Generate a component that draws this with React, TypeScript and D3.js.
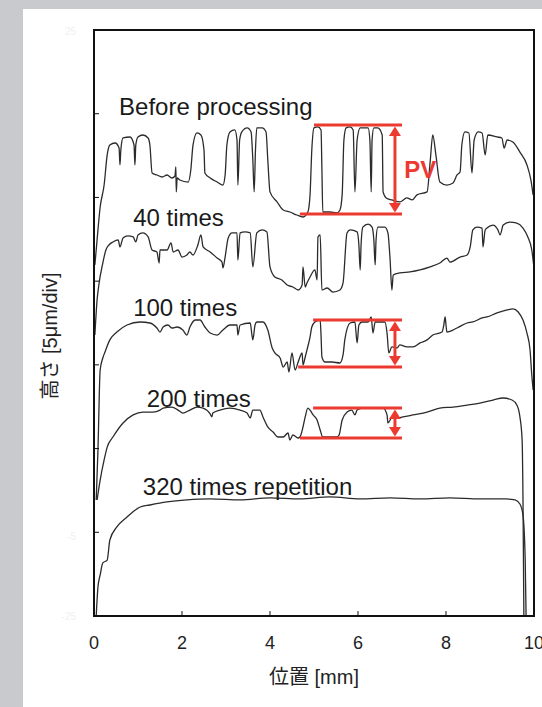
import React from 'react';
import * as d3 from 'd3';

// profile data: [position mm, height µm] (curves offset by 5 µm/div)
const beforeProcessing: [number, number][] = [
  [0.02, 20.97], [0.07, 22.46], [0.14, 24.43], [0.23, 25.74], [0.3, 27.54], [0.36, 28.13], [0.48, 28.25],
  [0.57, 27.95], [0.59, 26.94], [0.61, 27.83], [0.66, 28.55], [0.82, 28.61], [0.91, 28.13], [0.93, 26.94],
  [0.95, 28.13], [1.0, 28.61], [1.11, 28.73], [1.23, 28.55], [1.27, 28.13], [1.32, 26.46], [1.43, 26.34],
  [1.55, 26.22], [1.66, 26.34], [1.77, 26.16], [1.84, 26.28], [1.86, 26.82], [1.87, 25.33], [1.89, 26.16],
  [1.95, 26.04], [2.14, 25.92], [2.2, 26.64], [2.25, 28.13], [2.34, 28.85], [2.43, 28.73], [2.5, 27.83],
  [2.52, 26.46], [2.64, 26.16], [2.8, 25.92], [2.93, 25.74], [2.98, 26.34], [3.02, 28.13], [3.09, 28.91],
  [3.2, 29.03], [3.25, 28.43], [3.27, 25.74], [3.31, 28.43], [3.36, 28.91], [3.48, 29.15], [3.57, 28.91],
  [3.61, 27.24], [3.64, 25.33], [3.67, 27.83], [3.7, 29.15], [3.82, 29.15], [3.91, 28.91], [3.95, 27.24],
  [4.0, 25.33], [4.16, 24.73], [4.3, 24.25], [4.45, 24.13], [4.61, 23.95], [4.75, 23.83], [4.86, 24.13],
  [4.91, 25.15], [4.95, 27.83], [5.0, 29.15], [5.09, 29.21], [5.16, 29.03], [5.18, 26.64], [5.2, 24.13],
  [5.36, 24.13], [5.52, 24.07], [5.59, 24.25], [5.64, 25.15], [5.68, 28.43], [5.73, 29.15], [5.82, 29.21],
  [5.89, 29.03], [5.93, 25.33], [5.98, 28.43], [6.05, 29.15], [6.11, 29.15], [6.23, 29.15], [6.27, 28.43],
  [6.3, 25.33], [6.32, 28.43], [6.36, 29.15], [6.45, 29.15], [6.55, 28.73], [6.57, 25.33], [6.64, 24.97],
  [6.77, 24.85], [6.95, 24.73], [7.11, 24.97], [7.23, 24.85], [7.34, 25.15], [7.57, 25.33], [7.64, 27.12],
  [7.7, 28.73], [7.77, 27.54], [7.86, 25.92], [8.02, 25.74], [8.16, 25.86], [8.25, 26.34], [8.32, 26.52],
  [8.36, 28.13], [8.43, 28.91], [8.52, 28.85], [8.59, 26.46], [8.64, 28.43], [8.73, 28.91], [8.82, 28.85],
  [8.89, 27.54], [8.95, 28.73], [9.16, 28.61], [9.27, 28.55], [9.32, 27.95], [9.39, 28.43], [9.52, 28.31],
  [9.68, 27.71], [9.84, 26.94], [9.93, 26.04], [9.98, 25.15],
];

const times40: [number, number][] = [
  [0.02, 16.78], [0.07, 18.87], [0.11, 19.77], [0.2, 21.08], [0.27, 21.86], [0.34, 22.16], [0.43, 22.34],
  [0.55, 22.46], [0.59, 22.04], [0.66, 22.58], [0.77, 22.7], [0.89, 22.64], [0.95, 22.34], [1.0, 22.76],
  [1.11, 22.88], [1.23, 22.64], [1.32, 21.86], [1.43, 21.74], [1.48, 21.08], [1.5, 21.86], [1.66, 21.86],
  [1.75, 22.28], [1.8, 21.74], [1.91, 21.86], [2.0, 21.44], [2.11, 21.56], [2.18, 21.74], [2.25, 21.56],
  [2.36, 22.16], [2.43, 22.76], [2.48, 22.04], [2.64, 21.74], [2.8, 21.38], [2.91, 21.14], [2.93, 20.79],
  [2.98, 21.44], [3.05, 22.58], [3.14, 22.88], [3.25, 22.88], [3.27, 21.26], [3.32, 22.88], [3.43, 22.94],
  [3.55, 22.88], [3.61, 20.85], [3.7, 22.88], [3.82, 23.06], [3.93, 22.94], [4.0, 20.85], [4.11, 20.25],
  [4.27, 20.07], [4.39, 19.77], [4.52, 19.65], [4.64, 19.47], [4.73, 19.77], [4.75, 20.85], [4.8, 19.65],
  [4.84, 19.89], [4.91, 20.25], [5.02, 20.67], [5.07, 20.07], [5.09, 22.64], [5.14, 22.76], [5.18, 19.47],
  [5.3, 19.59], [5.43, 19.35], [5.59, 19.47], [5.66, 19.89], [5.75, 22.88], [5.82, 23.06], [5.98, 22.94],
  [6.02, 22.16], [6.05, 20.67], [6.07, 22.16], [6.11, 23.23], [6.23, 23.41], [6.32, 23.23], [6.36, 22.46],
  [6.39, 20.97], [6.41, 22.46], [6.45, 23.23], [6.61, 23.23], [6.68, 22.88], [6.73, 21.26], [6.77, 19.47],
  [6.8, 20.37], [6.95, 20.49], [7.18, 20.55], [7.41, 20.67], [7.64, 20.85], [7.86, 21.08], [8.02, 21.38],
  [8.09, 21.14], [8.32, 21.44], [8.48, 21.56], [8.55, 22.04], [8.61, 23.06], [8.7, 23.23], [8.82, 23.17],
  [8.84, 22.04], [8.89, 23.06], [8.93, 23.17], [9.07, 23.35], [9.18, 23.06], [9.23, 22.76], [9.3, 23.35],
  [9.45, 23.53], [9.61, 23.47], [9.75, 23.17], [9.86, 22.64], [9.95, 21.86], [10.0, 20.79],
];

const times100: [number, number][] = [
  [0.05, 6.93], [0.09, 9.92], [0.14, 14.69], [0.2, 15.41], [0.25, 15.77], [0.36, 16.49], [0.52, 16.96],
  [0.75, 17.38], [1.05, 17.56], [1.27, 17.5], [1.43, 17.2], [1.5, 16.96], [1.57, 17.26], [1.68, 17.38],
  [1.77, 17.2], [1.89, 17.26], [2.02, 17.08], [2.11, 16.78], [2.18, 17.26], [2.3, 17.68], [2.41, 17.68],
  [2.52, 17.26], [2.64, 16.9], [2.8, 16.78], [2.93, 17.08], [3.09, 17.38], [3.25, 17.38], [3.27, 16.78],
  [3.32, 17.38], [3.55, 17.5], [3.59, 16.78], [3.61, 16.49], [3.66, 17.38], [3.7, 17.56], [3.84, 17.56],
  [3.95, 17.08], [4.05, 16.01], [4.11, 15.71], [4.23, 15.41], [4.3, 14.87], [4.39, 15.17], [4.43, 14.57],
  [4.5, 15.71], [4.57, 14.69], [4.64, 15.17], [4.68, 15.47], [4.73, 15.71], [4.75, 14.99], [4.8, 15.47],
  [4.84, 15.89], [4.91, 16.66], [4.95, 17.26], [5.02, 17.56], [5.14, 17.68], [5.16, 16.78], [5.18, 15.47],
  [5.25, 15.17], [5.41, 15.17], [5.59, 15.11], [5.66, 15.59], [5.7, 16.49], [5.82, 17.5], [5.93, 17.56],
  [5.98, 16.31], [6.02, 17.38], [6.09, 17.56], [6.23, 17.56], [6.3, 17.86], [6.34, 16.9], [6.39, 17.56],
  [6.61, 17.56], [6.66, 16.9], [6.7, 15.71], [6.77, 16.07], [6.89, 16.01], [6.95, 16.19], [7.11, 16.07],
  [7.25, 16.07], [7.41, 16.31], [7.57, 16.49], [7.7, 16.78], [7.91, 16.96], [7.95, 17.38], [7.98, 17.86],
  [8.0, 17.38], [8.02, 16.96], [8.25, 17.2], [8.48, 17.5], [8.61, 17.56], [8.82, 17.8], [8.93, 17.86],
  [9.16, 18.1], [9.39, 18.28], [9.52, 18.34], [9.64, 18.16], [9.75, 17.68], [9.84, 16.9], [9.91, 15.89],
  [9.95, 14.39], [9.98, 13.5],
];

const times200: [number, number][] = [
  [0.07, 6.93], [0.14, 8.12], [0.23, 9.32], [0.3, 10.09], [0.43, 10.69], [0.66, 11.53], [0.89, 12.01],
  [1.11, 12.18], [1.34, 12.18], [1.5, 12.3], [1.57, 12.42], [1.77, 12.48], [1.91, 12.3], [2.02, 12.12],
  [2.18, 12.3], [2.34, 12.48], [2.48, 12.42], [2.64, 12.07], [2.68, 11.89], [2.7, 12.12], [2.86, 12.3],
  [3.09, 12.42], [3.32, 12.3], [3.48, 12.12], [3.55, 11.83], [3.61, 12.3], [3.77, 12.3], [3.84, 11.89],
  [3.95, 11.29], [4.07, 10.99], [4.18, 10.69], [4.3, 10.69], [4.41, 10.93], [4.45, 10.51], [4.52, 10.81],
  [4.64, 10.63], [4.68, 10.69], [4.75, 11.29], [4.8, 11.89], [4.86, 12.42], [4.91, 12.3], [4.98, 12.01],
  [5.07, 11.71], [5.14, 11.11], [5.2, 10.69], [5.36, 10.69], [5.52, 10.69], [5.57, 10.81], [5.64, 11.71],
  [5.75, 12.18], [5.86, 12.3], [5.93, 12.01], [5.98, 12.3], [6.11, 12.42], [6.43, 12.42], [6.57, 12.42],
  [6.66, 12.01], [6.68, 11.53], [6.77, 11.83], [6.89, 11.83], [7.02, 11.89], [7.25, 12.01], [7.57, 12.18],
  [7.86, 12.42], [8.16, 12.48], [8.48, 12.6], [8.77, 12.72], [9.07, 12.9], [9.3, 13.02], [9.5, 12.9],
  [9.61, 12.6], [9.68, 11.89], [9.73, 10.51], [9.75, 6.93], [9.77, 0],
];

const times320: [number, number][] = [
  [0.05, 0], [0.09, 1.73], [0.14, 2.45], [0.2, 3.17], [0.3, 3.34], [0.36, 4.54], [0.52, 5.32], [0.75, 5.91],
  [1.05, 6.51], [1.27, 6.63], [1.66, 6.81], [2.11, 6.93], [2.64, 6.99], [3.32, 6.93], [4.0, 7.05],
  [4.68, 6.99], [5.36, 7.11], [6.05, 6.99], [6.73, 7.05], [7.41, 6.99], [8.09, 7.05], [8.77, 6.99],
  [9.34, 6.99], [9.57, 6.93], [9.68, 6.69], [9.75, 6.03], [9.8, 3.34], [9.82, 0],
];

const seriesLabels = ['Before processing', '40 times', '100 times', '200 times', '320 times repetition'];
const labelAnchors: [number, number][] = [[0.57, 29.9], [0.89, 23.3], [0.89, 17.9], [1.2, 12.5], [1.11, 7.2]];

// PV markers: top level, bottom level, and where each line starts
const pvTop = [29.33, 17.68, 12.42];
const pvBottom = [24.01, 14.87, 10.63];
const pvTopStart = [5.0, 4.98, 4.98];
const pvBottomStart = [4.68, 4.64, 4.68];
const pvEnd = 7.0;
const pvArrowX = 6.84;

const xTicks = [0, 2, 4, 6, 8, 10];
const yTicks = [0, 5, 10, 15, 20, 25, 30, 35];

export default function App() {
  const W = 542;
  const H = 707;
  const left = 94, right = 534, top = 30, bottom = 616;
  const x = d3.scaleLinear().domain([0, 10]).range([left, right]);
  const y = d3.scaleLinear().domain([0, 35]).range([bottom, top]);
  const line = d3.line<[number, number]>().x(d => x(d[0])).y(d => y(d[1])).curve(d3.curveMonotoneX);
  const curves = [beforeProcessing, times40, times100, times200, times320];
  const red = '#ec3a30';
  const font = '"Liberation Sans", Arial, "Noto Sans CJK JP", sans-serif';

  return (
    <svg width={W} height={H} style={{ position: 'absolute', left: 0, top: 0 }} fontFamily={font}>
      <rect x={0} y={0} width={W} height={H} fill="#c9cacd" />
      <rect x={23} y={9} width={W - 23} height={H - 9} fill="#ffffff" />

      {/* faint ghost tick labels */}
      <g fill="#efefef" fontSize={10} textAnchor="end">
        <text x={76} y={35}>25</text>
        <text x={76} y={540}>-5</text>
        <text x={76} y={620}>-25</text>
      </g>

      {curves.map((c, i) => (
        <path key={i} d={line(c) ?? ''} fill="none" stroke="#2b2b2b" strokeWidth={1.3} strokeLinejoin="round" />
      ))}

      {seriesLabels.map((s, i) => (
        <text key={s} x={x(labelAnchors[i][0])} y={y(labelAnchors[i][1])} fontSize={24} fill="#1a1a1a">{s}</text>
      ))}

      {/* PV markers */}
      {pvTop.map((t, i) => {
        const b = pvBottom[i];
        const ax = x(pvArrowX);
        const yt = y(t), yb = y(b);
        const head = Math.min(10, (yb - yt) / 3);
        return (
          <g key={i}>
            <line x1={x(pvTopStart[i])} x2={x(pvEnd)} y1={yt} y2={yt} stroke={red} strokeWidth={3} />
            <line x1={x(pvBottomStart[i])} x2={x(pvEnd)} y1={yb} y2={yb} stroke={red} strokeWidth={3} />
            <line x1={ax} x2={ax} y1={yt + head} y2={yb - head} stroke={red} strokeWidth={3} />
            <path d={`M${ax},${yt + 1.5} L${ax - 6},${yt + head + 1} L${ax + 6},${yt + head + 1} Z`} fill={red} />
            <path d={`M${ax},${yb - 1.5} L${ax - 6},${yb - head - 1} L${ax + 6},${yb - head - 1} Z`} fill={red} />
          </g>
        );
      })}
      <text x={x(7.05)} y={y((pvTop[0] + pvBottom[0]) / 2) + 9} fontSize={24} fontWeight="bold" fill={red}>PV</text>

      {/* frame and ticks */}
      <rect x={left} y={top} width={right - left} height={bottom - top} fill="none" stroke="#111" strokeWidth={2} />
      {xTicks.slice(1, -1).map(t => (
        <line key={t} x1={x(t)} x2={x(t)} y1={bottom} y2={bottom - 5} stroke="#111" strokeWidth={1} />
      ))}
      {yTicks.slice(1, -1).map(t => (
        <line key={t} x1={left} x2={left + 5} y1={y(t)} y2={y(t)} stroke="#111" strokeWidth={1} />
      ))}
      {xTicks.map(t => (
        <text key={t} x={x(t)} y={bottom + 33} fontSize={18} textAnchor="middle" fill="#222">{t}</text>
      ))}

      <text x={(left + right) / 2} y={684} fontSize={20} textAnchor="middle" fill="#222">位置 [mm]</text>
      <text transform={`translate(57, ${(top + bottom) / 2 + 13}) rotate(-90)`} fontSize={20} textAnchor="middle" fill="#222">高さ [5μm/div]</text>
    </svg>
  );
}
